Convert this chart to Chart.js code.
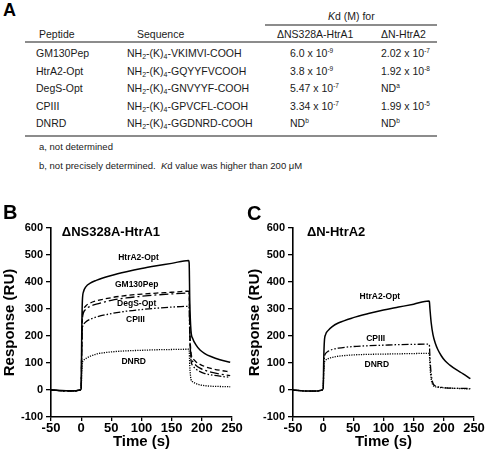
<!DOCTYPE html>
<html>
<head>
<meta charset="utf-8">
<script src="https://cdn.jsdelivr.net/npm/chart.js@4.4.1/dist/chart.umd.min.js"></script>
<style>
  body { margin: 0; background: #fff; }
  #fig { position: relative; width: 488px; height: 454px; overflow: hidden;
         font-family: Arial, "Liberation Sans", sans-serif; color: #1a1a1a; }
  .t { position: absolute; white-space: nowrap; font-size: 10.5px; line-height: 12px; }
  .note { font-size: 9.5px; }
  .panel { position: absolute; font-weight: bold; font-size: 20px; line-height: 20px; color: #000; z-index: 2; }
  .rule { position: absolute; background: #8c8c8c; }
  sub { font-size: 7px; vertical-align: -2px; line-height: 0; }
  sup { font-size: 6.5px; vertical-align: 4px; line-height: 0; }
  canvas { position: absolute; }
</style>
</head>
<body>
<div id="fig">
  <canvas id="chartB" width="244" height="254" style="left:0;top:200px"></canvas>
  <canvas id="chartC" width="243" height="254" style="left:245px;top:200px"></canvas>
  <div class="panel" style="left:3px;top:0px;font-size:18px">A</div>
  <div class="panel" style="left:3px;top:202px">B</div>
  <div class="panel" style="left:247px;top:203px">C</div>
  <div id="table"></div>
</div>

<script>
// ---- table A ----
const peptides = ['GM130Pep', 'HtrA2-Opt', 'DegS-Opt', 'CPIII', 'DNRD'];
const sequences = ['VKIMVI-COOH', 'GQYYFVCOOH', 'GNVYYF-COOH', 'GPVCFL-COOH', 'GGDNRD-COOH'];
const kdHtrA1 = ['6.0e-9', '3.8e-9', '5.47e-7', '3.34e-7', 'ND:b'];
const kdHtrA2 = ['2.02e-7', '1.92e-8', 'ND:a', '1.99e-5', 'ND:b'];

// ---- sensorgram B (ΔNS328A-HtrA1) ----
const timeB = [-50, -25, -10, -2, 0, 1, 2, 4, 8, 15, 25, 50, 75, 100, 125, 150, 178, 179, 180, 182, 185, 190, 197, 205, 215, 230, 247];
const b_HtrA2Opt = [0, -3, -3, 0, 5, 220, 330, 365, 383, 396, 406, 424, 438, 450, 460, 469, 480, 470, 330, 220, 190, 168, 148, 135, 124, 112, 103];
const b_GM130Pep = [0, -3, -3, 0, 5, 180, 270, 298, 312, 322, 330, 342, 350, 355, 359, 362, 366, 360, 230, 140, 118, 105, 95, 87, 80, 73, 67];
const b_DegSOpt  = [0, -3, -3, 0, 5, 170, 260, 287, 300, 310, 318, 332, 341, 347, 352, 356, 359, 353, 220, 125, 105, 92, 81, 73, 66, 59, 53];
const b_CPIII    = [0, -3, -3, 0, 5, 150, 225, 243, 253, 262, 270, 283, 292, 298, 303, 307, 310, 305, 200, 110, 90, 78, 68, 61, 56, 51, 47];
const b_DNRD     = [0, -3, -3, 0, 5, 70, 100, 110, 117, 125, 133, 141, 145, 147, 149, 150, 151, 149, 90, 40, 30, 24, 19, 16, 14, 13, 12];

// ---- sensorgram C (ΔN-HtrA2) ----
const timeC = [-50, -25, -10, -2, 0, 1, 2, 4, 8, 15, 25, 50, 75, 100, 125, 150, 175, 176, 177, 179, 182, 186, 190, 196, 202, 210, 220, 232, 244];
const c_HtrA2Opt = [0, -4, -4, 0, 5, 120, 180, 205, 220, 235, 248, 268, 283, 296, 307, 318, 330, 328, 300, 250, 205, 172, 150, 126, 108, 92, 76, 60, 42];
const c_CPIII    = [0, -4, -4, 0, 5, 80, 120, 135, 143, 150, 155, 161, 164, 166, 168, 169, 170, 168, 120, 60, 25, 15, 12, 10, 8, 7, 6, 6, 5];
const c_DNRD     = [0, -4, -4, 0, 5, 70, 100, 110, 116, 121, 125, 130, 132, 133, 134, 135, 136, 134, 90, 40, 18, 12, 10, 9, 8, 7, 6, 5, 4];

const xTicks = [-50, 0, 50, 100, 150, 200, 250];
const yTicks = [-100, 0, 100, 200, 300, 400, 500, 600];

const FONT = 'Arial, "Liberation Sans", sans-serif';

function kdHtml(v) {
  if (v.startsWith('ND')) return 'ND<sup>' + v.split(':')[1] + '</sup>';
  const [m, e] = v.split('e');
  return m + ' x 10<sup>' + e + '</sup>';
}

function buildTable() {
  const el = document.getElementById('table');
  let h = '';
  const put = (x, y, html, cls) => {
    h += `<div class="t ${cls || ''}" style="left:${x}px;top:${y - 6}px">${html}</div>`;
  };
  put(328, 16, '<i>K</i>d (M) for');
  h += '<div class="rule" style="left:265px;top:24px;width:172px;height:1.5px"></div>';
  put(39, 34, 'Peptide');
  put(137, 34, 'Sequence');
  put(277, 34, '&Delta;NS328A-HtrA1');
  put(381, 34, '&Delta;N-HtrA2');
  h += '<div class="rule" style="left:25px;top:41px;width:412px;height:2px"></div>';
  peptides.forEach((p, i) => {
    const y = 53 + i * 17.5;
    put(36, y, p);
    put(127, y, 'NH<sub>2</sub>-(K)<sub>4</sub>-' + sequences[i]);
    put(290, y, kdHtml(kdHtrA1[i]));
    put(381, y, kdHtml(kdHtrA2[i]));
  });
  h += '<div class="rule" style="left:25px;top:135px;width:412px;height:2px"></div>';
  put(39, 147, 'a, not determined', 'note');
  put(39, 166, 'b, not precisely determined.&nbsp; <i>K</i>d value was higher than 200 &mu;M', 'note');
  el.innerHTML = h;
}

const curveText = {
  id: 'curveText',
  afterDatasetsDraw(chart, args, opts) {
    const { ctx, scales: { x, y } } = chart;
    ctx.save();
    ctx.fillStyle = '#000';
    ctx.textBaseline = 'middle';
    (opts.items || []).forEach(it => {
      ctx.font = it.font;
      ctx.textAlign = it.align || 'center';
      ctx.fillText(it.text, x.getPixelForValue(it.x), y.getPixelForValue(it.y));
    });
    ctx.restore();
  }
};

const styles = {
  'HtrA2-Opt': { dash: [], width: 1.5 },
  'GM130Pep': { dash: [5, 3], width: 1.3 },
  'DegS-Opt': { dash: [9, 3, 2, 3], width: 1.3 },
  'CPIII': { dash: [7, 2, 1.5, 2, 1.5, 2], width: 1.3 },
  'DNRD': { dash: [1.2, 1.2], width: 1.3 }
};

function makeChart(id, times, series, labels, areaLeft, areaRight) {
  const canvas = document.getElementById(id);
  const datasets = Object.entries(series).map(([name, vals]) => ({
    label: name,
    data: times.map((t, i) => ({ x: t, y: vals[i] })),
    borderColor: '#000',
    borderWidth: styles[name].width,
    borderDash: styles[name].dash,
    pointRadius: 0,
    fill: false,
    cubicInterpolationMode: 'monotone'
  }));
  const tickFont = size => ({ family: FONT, weight: 'bold', size });
  return new Chart(canvas.getContext('2d'), {
    type: 'line',
    data: { datasets },
    plugins: [curveText],
    options: {
      responsive: false,
      animation: false,
      devicePixelRatio: 1,
      layout: { padding: { left: 1, right: canvas.width - areaRight, top: 28, bottom: 3 } },
      plugins: {
        legend: { display: false },
        tooltip: { enabled: false },
        curveText: { items: labels }
      },
      scales: {
        x: {
          type: 'linear', min: xTicks[0], max: xTicks[xTicks.length - 1],
          afterBuildTicks: s => { s.ticks = xTicks.map(v => ({ value: v })); },
          ticks: { color: '#000', font: tickFont(13), padding: 0, maxRotation: 0 },
          grid: { drawOnChartArea: false, drawTicks: true, tickLength: 4, color: '#000', lineWidth: 1.3 },
          border: { color: '#000', width: 1.6 },
          title: { display: true, text: 'Time (s)', color: '#000', font: tickFont(15), padding: 0 },
          afterFit: s => { s.height = 34; }
        },
        y: {
          type: 'linear', min: yTicks[0], max: yTicks[yTicks.length - 1],
          afterBuildTicks: s => { s.ticks = yTicks.map(v => ({ value: v })); },
          ticks: { color: '#000', font: tickFont(11), padding: 3 },
          grid: { drawOnChartArea: false, drawTicks: true, tickLength: 5, color: '#000', lineWidth: 1.3 },
          border: { color: '#000', width: 1.6 },
          title: { display: true, text: 'Response (RU)', color: '#000', font: tickFont(15), padding: 0 },
          afterFit: s => { s.width = areaLeft - 1; }
        }
      }
    }
  });
}

buildTable();

const labelFont = 'bold 8.5px ' + FONT;
const titleFont = 'bold 13px ' + FONT;

makeChart('chartB', timeB,
  { 'HtrA2-Opt': b_HtrA2Opt, 'GM130Pep': b_GM130Pep, 'DegS-Opt': b_DegSOpt, 'CPIII': b_CPIII, 'DNRD': b_DNRD },
  [
    { text: '\u0394NS328A-HtrA1', x: -32, y: 585, font: titleFont, align: 'left' },
    { text: 'HtrA2-Opt', x: 95, y: 491, font: labelFont },
    { text: 'GM130Pep', x: 92, y: 389, font: labelFont },
    { text: 'DegS-Opt', x: 92, y: 321, font: labelFont },
    { text: 'CPIII', x: 90, y: 262, font: labelFont },
    { text: 'DNRD', x: 87, y: 105, font: labelFont }
  ], 51, 232);

makeChart('chartC', timeC,
  { 'HtrA2-Opt': c_HtrA2Opt, 'CPIII': c_CPIII, 'DNRD': c_DNRD },
  [
    { text: '\u0394N-HtrA2', x: -27, y: 585, font: titleFont, align: 'left' },
    { text: 'HtrA2-Opt', x: 94, y: 347, font: labelFont },
    { text: 'CPIII', x: 87, y: 190, font: labelFont },
    { text: 'DNRD', x: 89, y: 93, font: labelFont }
  ], 48, 229);
</script>
</body>
</html>
